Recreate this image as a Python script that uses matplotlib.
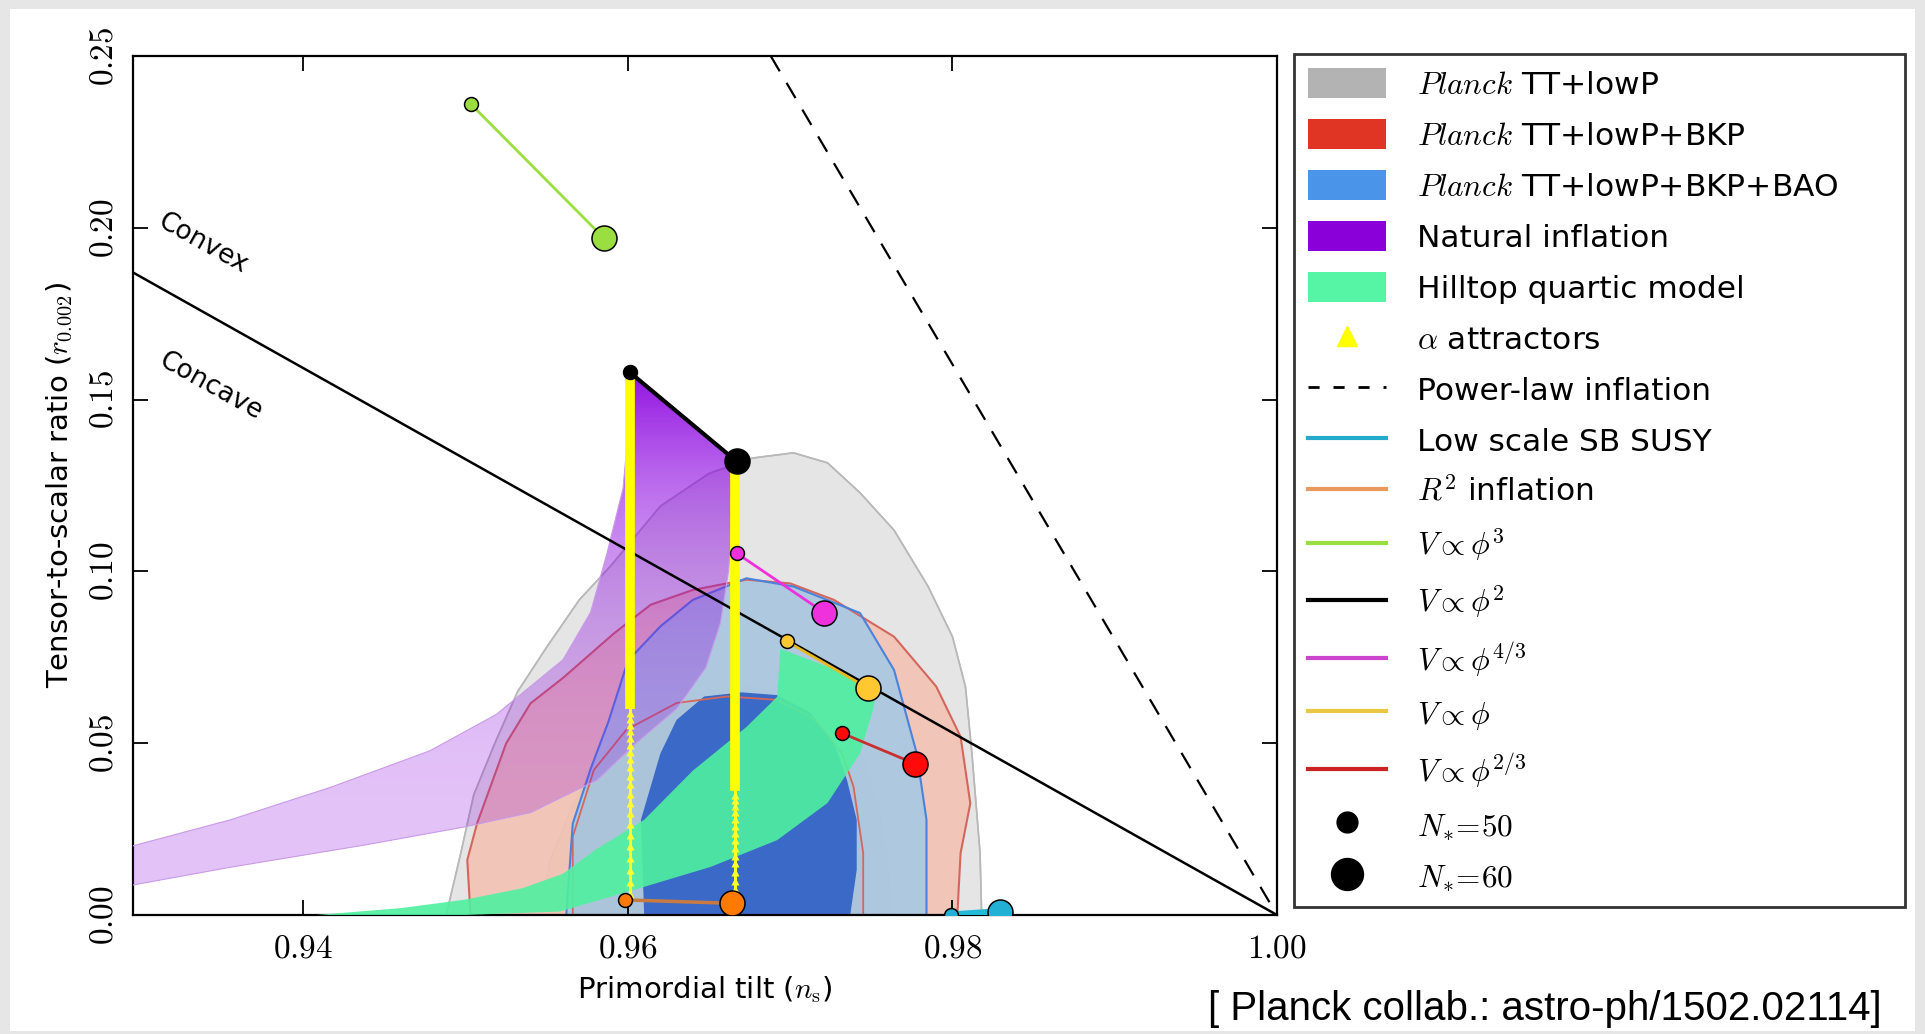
import matplotlib
matplotlib.use("Agg")
import matplotlib.pyplot as plt
import numpy as np
from matplotlib.patches import Polygon, Rectangle, Patch
from matplotlib.lines import Line2D
from matplotlib.ticker import FuncFormatter

plt.rcParams['mathtext.fontset'] = 'cm'
plt.rcParams['font.family'] = 'DejaVu Sans'
plt.rcParams['axes.linewidth'] = 1.6

### Planck contours (n_s, r)
gray95_ns = [0.9488, 0.9497, 0.9505, 0.9518, 0.9532, 0.9550, 0.9570, 0.9589, 0.9620, 0.9650, 0.9677,
             0.9702, 0.9723, 0.9743, 0.9764, 0.9785, 0.9800, 0.9808, 0.9812, 0.9817, 0.9818]
gray95_r = [0.000, 0.018, 0.035, 0.050, 0.065, 0.078, 0.0917, 0.1014, 0.119, 0.1285, 0.1330,
            0.1345, 0.1316, 0.1229, 0.1120, 0.0956, 0.0810, 0.0665, 0.0470, 0.0180, 0.000]

gray68_ns = [0.9546, 0.9552, 0.9566, 0.9585, 0.9610, 0.9640, 0.9669, 0.9700, 0.9725, 0.9745, 0.9755, 0.9760, 0.9762]
gray68_r = [0.000, 0.016, 0.032, 0.048, 0.058, 0.0645, 0.0665, 0.0650, 0.058, 0.045, 0.030, 0.015, 0.000]

red95_ns = [0.9503, 0.9501, 0.9507, 0.9525, 0.9540, 0.9560, 0.9591, 0.9614, 0.9640, 0.9673, 0.9700,
            0.9727, 0.9764, 0.9790, 0.9805, 0.9811, 0.9805, 0.9803]
red95_r = [0.000, 0.016, 0.0266, 0.050, 0.0616, 0.069, 0.0818, 0.0903, 0.0946, 0.0976, 0.0965,
           0.0917, 0.081, 0.0665, 0.0519, 0.0325, 0.018, 0.000]

red68_ns = [0.9566, 0.9566, 0.9579, 0.9599, 0.9630, 0.9661, 0.9692, 0.9715, 0.9732, 0.9739, 0.9745, 0.9745]
red68_r = [0.000, 0.0228, 0.0422, 0.0539, 0.0617, 0.0636, 0.0626, 0.057, 0.047, 0.0374, 0.018, 0.000]

blue95_ns = [0.9562, 0.9566, 0.9577, 0.9588, 0.9600, 0.9620, 0.9640, 0.9673, 0.9702, 0.9743, 0.9764, 0.9778, 0.9784, 0.9784]
blue95_r = [0.000, 0.0266, 0.0425, 0.0563, 0.074, 0.084, 0.0917, 0.098, 0.0956, 0.0879, 0.0713, 0.047, 0.0277, 0.000]

blue68_ns = [0.9610, 0.9608, 0.9620, 0.9630, 0.9647, 0.9670, 0.9692, 0.9712, 0.9727, 0.9735, 0.9741, 0.9741, 0.9737]
blue68_r = [0.000, 0.0277, 0.047, 0.0568, 0.0636, 0.0648, 0.064, 0.059, 0.050, 0.0393, 0.0277, 0.0131, 0.000]

### model regions
natural_ns = [0.9601, 0.9600, 0.9597, 0.9587, 0.9577, 0.9560, 0.9519, 0.9478, 0.9417, 0.9355, 0.9290,
              0.9290, 0.9355, 0.9437, 0.9499, 0.9540, 0.9581, 0.9605, 0.9630, 0.9648, 0.9657, 0.9662, 0.9665, 0.9667]
natural_r = [0.158, 0.140, 0.1242, 0.1051, 0.0881, 0.0743, 0.0584, 0.0478, 0.0372, 0.0277, 0.0195,
             0.0083, 0.0139, 0.0203, 0.0256, 0.0298, 0.0393, 0.050, 0.060, 0.072, 0.085, 0.100, 0.118, 0.132]

hilltop_ns = [0.9408, 0.9460, 0.9500, 0.9535, 0.9560, 0.9580, 0.9610, 0.9640, 0.9673, 0.9692, 0.9694, 0.9720, 0.9754,
              0.9751, 0.9743, 0.9723, 0.9692, 0.9651, 0.9610, 0.9558, 0.9500]
hilltop_r = [0.000, 0.0020, 0.0045, 0.0078, 0.0120, 0.0190, 0.0277, 0.0420, 0.0547, 0.0635, 0.0775, 0.0728, 0.0668,
             0.0597, 0.0470, 0.0326, 0.0218, 0.0140, 0.0082, 0.0010, 0.000]

### model predictions (N*=50, N*=60)
phi3_ns, phi3_r = [0.9503, 0.9585], [0.2361, 0.1971]
phi2_ns, phi2_r = [0.9601, 0.9667], [0.1580, 0.1320]
phi43_ns, phi43_r = [0.9667, 0.9721], [0.1053, 0.0880]
phi1_ns, phi1_r = [0.9698, 0.9748], [0.0796, 0.0660]
phi23_ns, phi23_r = [0.9732, 0.9777], [0.0529, 0.0440]
r2_ns, r2_r = [0.9598, 0.9664], [0.0044, 0.0034]
susy_ns, susy_r = [0.9799, 0.9829], [0.0, 0.001]

convex_ns, convex_r = [0.9295, 1.0], [0.187, 0.0]
powerlaw_ns, powerlaw_r = [0.9688, 1.0], [0.25, 0.0]

# alpha attractors
alpha50_ns = 0.9601
alpha50_top, alpha50_solid = 0.158, 0.060
alpha50_r = [0.0062, 0.0096, 0.0130, 0.0165, 0.0200, 0.0233, 0.0265, 0.0296, 0.0325, 0.0353, 0.0380,
             0.0405, 0.0430, 0.0453, 0.0475, 0.0496, 0.0516, 0.0535, 0.0553, 0.0570, 0.0588]
alpha60_ns = 0.9666
alpha60_top, alpha60_solid = 0.1316, 0.036
alpha60_r = [0.0050, 0.0075, 0.0100, 0.0125, 0.0150, 0.0173, 0.0196, 0.0218, 0.0240, 0.0260, 0.0280,
             0.0299, 0.0317, 0.0334, 0.0350]

xticks = [0.94, 0.96, 0.98, 1.00]
yticks = [0.00, 0.05, 0.10, 0.15, 0.20, 0.25]

W, H = 1925, 1034
fig = plt.figure(figsize=(W / 100, H / 100), dpi=100)
fig.patch.set_facecolor('#e6e6e6')
fig.patches.append(Rectangle((10 / W, 3 / H), 1905 / W, 1022 / H, transform=fig.transFigure,
                             facecolor='white', edgecolor='none', zorder=-5))

ax = fig.add_axes([133 / W, 1 - 915 / H, (1277 - 133) / W, (915 - 56) / H])

def region(ns, r, fc, ec=None, lw=1.2, alpha=1.0, z=1):
    ax.add_patch(Polygon(np.column_stack([ns, r]), closed=True, facecolor=fc, edgecolor='none',
                         alpha=alpha, zorder=z))
    if ec is not None:
        ax.add_patch(Polygon(np.column_stack([ns, r]), closed=True, facecolor='none', edgecolor=ec,
                             lw=lw, zorder=z + 0.05))

region(gray95_ns, gray95_r, '#e5e5e5', ec='#bdbdbd', z=1.0)
region(gray68_ns, gray68_r, '#cdcdcd', ec='#b8b8b8', z=1.1)
region(red95_ns, red95_r, '#f3c3b3', alpha=0.9, z=1.2)
region(red68_ns, red68_r, '#e6a898', alpha=0.9, z=1.3)
region(blue95_ns, blue95_r, '#a2c9e6', alpha=0.85, z=1.4)
region(blue68_ns, blue68_r, '#3b69c7', z=1.5)
# contour outlines
ax.add_patch(Polygon(np.column_stack([red95_ns, red95_r]), closed=True, fill=False, ec='#d4665c', lw=1.5, zorder=1.6))
ax.add_patch(Polygon(np.column_stack([red68_ns, red68_r]), closed=True, fill=False, ec='#d4665c', lw=1.3, zorder=1.6))
ax.add_patch(Polygon(np.column_stack([blue95_ns, blue95_r]), closed=True, fill=False, ec='#4a82dc', lw=1.5, zorder=1.6))
ax.add_patch(Polygon(np.column_stack([gray95_ns, gray95_r]), closed=True, fill=False, ec='#b8b8b8', lw=1.1, zorder=1.6))

# natural inflation: purple band, darker towards the top
nat_poly = Polygon(np.column_stack([natural_ns, natural_r]), closed=True, facecolor='none', edgecolor='none')
ax.add_patch(nat_poly)
ys = np.linspace(0, 1, 300)[:, None]
grad = np.zeros((300, 2, 4))
grad[..., 0] = 0.55
grad[..., 1] = 0.02
grad[..., 2] = 0.88
grad[..., 3] = 0.24 + 0.74 * ys ** 3
im = ax.imshow(grad, extent=[0.928, 0.968, 0.0, 0.16], origin='lower', aspect='auto',
               interpolation='bilinear', zorder=3)
im.set_clip_path(nat_poly)
ax.add_patch(Polygon(np.column_stack([natural_ns, natural_r]), closed=True, fill=False,
                     ec='#c89ae8', lw=0.8, zorder=3.1))

# hilltop quartic
ax.add_patch(Polygon(np.column_stack([hilltop_ns, hilltop_r]), closed=True, facecolor='#4ff0a0',
                     edgecolor='none', alpha=0.9, zorder=4))

# convex / concave divide and power-law inflation
ax.plot(convex_ns, convex_r, color='black', lw=1.8, zorder=5)
ax.plot(powerlaw_ns, powerlaw_r, color='black', lw=1.6, ls=(0, (8, 6)), zorder=5)
ax.text(0.9338, 0.1953, 'Convex', rotation=-29, ha='center', va='center', fontsize=19, zorder=5)
ax.text(0.9343, 0.1538, 'Concave', rotation=-29, ha='center', va='center', fontsize=19, zorder=5)

# alpha attractors
for x0, top, solid, rs in [(alpha50_ns, alpha50_top, alpha50_solid, alpha50_r),
                           (alpha60_ns, alpha60_top, alpha60_solid, alpha60_r)]:
    ax.plot([x0, x0], [min(rs), solid], color='#ffff20', lw=2.2, zorder=6)
    ax.plot([x0, x0], [solid, top], color='#ffff00', lw=7, solid_capstyle='butt', zorder=6)
    ax.plot([x0] * len(rs), rs, ls='none', marker='^', ms=6, color='#ffff30', mec='none', zorder=6)

# model lines and points
models = [
    (phi3_ns, phi3_r, '#9ade40', '#9ade40', 2.0),
    (phi2_ns, phi2_r, 'black', 'black', 3.0),
    (phi43_ns, phi43_r, '#ee30dd', '#ee30dd', 2.0),
    (phi1_ns, phi1_r, '#e8b820', '#ffc830', 2.0),
    (phi23_ns, phi23_r, '#c83030', '#ff0a0a', 2.0),
    (r2_ns, r2_r, '#c87a40', '#ff7a00', 2.5),
    (susy_ns, susy_r, '#22b8d8', '#22b0d4', 5.0),
]
for ns, r, lc, mc, lw in models:
    ax.plot(ns, r, color=lc, lw=lw, zorder=7)
    ax.plot(ns[0], r[0], 'o', ms=10, color=mc, mec='black', mew=1.1, zorder=8)
    ax.plot(ns[1], r[1], 'o', ms=18, color=mc, mec='black', mew=1.1, zorder=8)

ax.set_xlim(0.9295, 1.0)
ax.set_ylim(0.0, 0.25)
ax.set_xticks(xticks)
ax.set_yticks(yticks)
fmt = FuncFormatter(lambda v, p: "${:.2f}$".format(v))
ax.xaxis.set_major_formatter(fmt)
ax.yaxis.set_major_formatter(fmt)
ax.tick_params(direction='in', length=11, width=1.3, top=True, right=True, labelsize=24)
ax.tick_params(axis='x', pad=12)
ax.tick_params(axis='y', pad=10, labelrotation=90)
for lab in ax.get_yticklabels():
    lab.set_va('center')

ax.set_xlabel(r"Primordial tilt ($n_{\rm s}$)", fontsize=21, labelpad=7)
ax.set_ylabel(r"Tensor-to-scalar ratio ($r_{0.002}$)", fontsize=21, labelpad=8)

# legend
handles = [
    Patch(facecolor='#b3b3b3', edgecolor='none'),
    Patch(facecolor='#e03424', edgecolor='none'),
    Patch(facecolor='#4a94ea', edgecolor='none'),
    Patch(facecolor='#8a00d8', edgecolor='none'),
    Patch(facecolor='#55f5a5', edgecolor='none'),
    Line2D([], [], ls='none', marker='^', ms=15, color='#ffff00'),
    Line2D([], [], color='black', lw=2, ls=(0, (4, 5))),
    Line2D([], [], color='#22aacc', lw=3),
    Line2D([], [], color='#e89a5c', lw=3),
    Line2D([], [], color='#9ade40', lw=3),
    Line2D([], [], color='black', lw=3),
    Line2D([], [], color='#cc44cc', lw=3),
    Line2D([], [], color='#e8c840', lw=3),
    Line2D([], [], color='#cc2222', lw=3),
    Line2D([], [], ls='none', marker='o', ms=15, color='black'),
    Line2D([], [], ls='none', marker='o', ms=23, color='black'),
]
labels = [
    r"$\mathit{Planck}$ TT+lowP",
    r"$\mathit{Planck}$ TT+lowP+BKP",
    r"$\mathit{Planck}$ TT+lowP+BKP+BAO",
    "Natural inflation",
    "Hilltop quartic model",
    r"$\alpha$ attractors",
    "Power-law inflation",
    "Low scale SB SUSY",
    r"$R^2$ inflation",
    r"$V\propto\phi^3$",
    r"$V\propto\phi^2$",
    r"$V\propto\phi^{4/3}$",
    r"$V\propto\phi$",
    r"$V\propto\phi^{2/3}$",
    r"$N_{*}\!=\!50$",
    r"$N_{*}\!=\!60$",
]
leg = fig.legend(handles, labels, loc='upper left',
                 bbox_to_anchor=(1294 / W, 0, (1905 - 1294) / W, 1 - 54 / H),
                 bbox_transform=fig.transFigure, mode='expand', borderaxespad=0, fontsize=22.5,
                 frameon=True, fancybox=False, edgecolor='black', borderpad=0.45, labelspacing=0.62,
                 handlelength=2.5, handleheight=1.1, handletextpad=1.0)
leg.get_frame().set_linewidth(2.0)

fig.text(1882 / W, 1 - 1009 / H, "[ Planck collab.: astro-ph/1502.02114]", ha='right', va='center',
         fontsize=29, family=['Liberation Sans Narrow', 'Liberation Sans'])

fig.savefig("out.png", dpi=100, facecolor=fig.get_facecolor())
